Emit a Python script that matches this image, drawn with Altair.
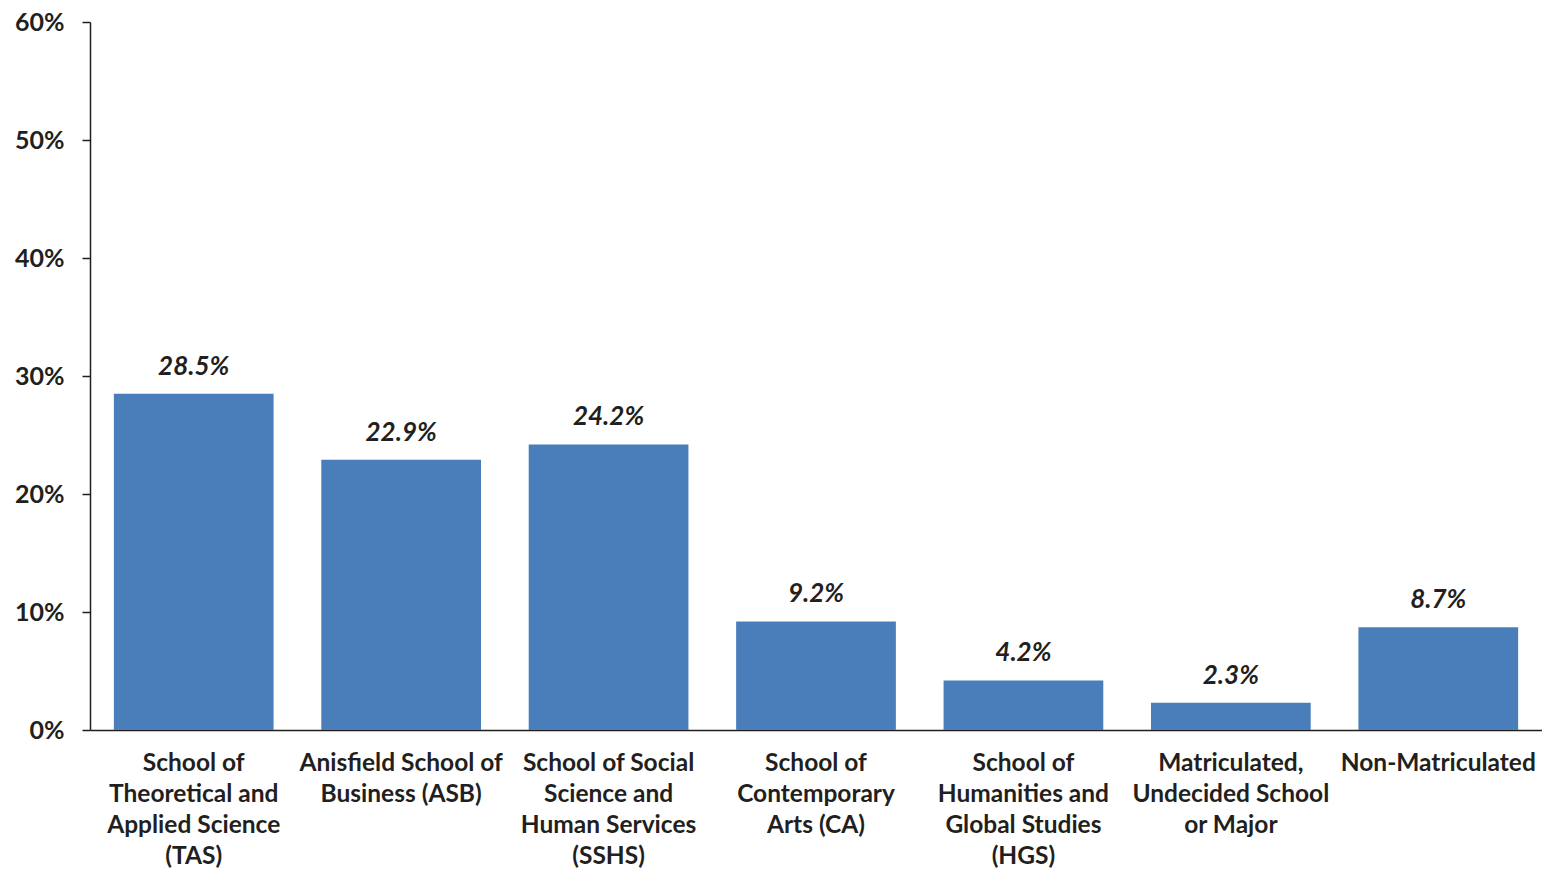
import altair as alt
import pandas as pd

categories = [
    "School of|Theoretical and|Applied Science|(TAS)",
    "Anisfield School of|Business (ASB)",
    "School of Social|Science and|Human Services|(SSHS)",
    "School of|Contemporary|Arts (CA)",
    "School of|Humanities and|Global Studies|(HGS)",
    "Matriculated,|Undecided School|or Major",
    "Non-Matriculated",
]
values = [0.285, 0.229, 0.242, 0.092, 0.042, 0.023, 0.087]
y_ticks = [0, 0.1, 0.2, 0.3, 0.4, 0.5, 0.6]

df = pd.DataFrame({"cat": categories, "val": values})

FONT = "Lato"
TXT = "#231f20"
W = "bold"

x = alt.X(
    "cat:N",
    sort=None,
    scale=alt.Scale(paddingInner=0.23, paddingOuter=0.115),
    axis=alt.Axis(
        title=None,
        labelAngle=0,
        labelExpr="split(datum.label, '|')",
        labelFont=FONT,
        labelFontSize=24.5,
        labelFontWeight=W,
        labelColor=TXT,
        labelLineHeight=31,
        labelPadding=33,
        labelLimit=0,
        ticks=False,
        domainColor=TXT,
        domainWidth=1.5,
        labelBaseline="middle",
    ),
)
y = alt.Y(
    "val:Q",
    scale=alt.Scale(domain=[0, 0.6]),
    axis=alt.Axis(
        title=None,
        values=y_ticks,
        format=".0%",
        labelFont=FONT,
        labelFontSize=25,
        labelFontWeight=W,
        labelColor=TXT,
        labelPadding=18,
        tickSize=8,
        tickColor=TXT,
        tickWidth=1.5,
        domainColor=TXT,
        domainWidth=1.5,
        grid=False,
    ),
)

bars = alt.Chart(df).mark_bar(color="#4a7ebb").encode(x=x, y=y)
labels = alt.Chart(df).mark_text(
    font=FONT, fontSize=26, fontWeight=W, fontStyle="italic",
    color=TXT, baseline="alphabetic", dy=-19
).encode(x=x, y=y, text=alt.Text("val:Q", format=".1%"))

chart = (
    (bars + labels)
    .properties(
        width=1452,
        height=708,
        background="white",
        autosize=alt.AutoSizeParams(type="none"),
        padding={"left": 82, "top": 14, "right": 0, "bottom": 140},
    )
    .configure_view(stroke=None, strokeWidth=0)
)

chart.save("out.html", embed_options={"renderer": "svg", "actions": False})
